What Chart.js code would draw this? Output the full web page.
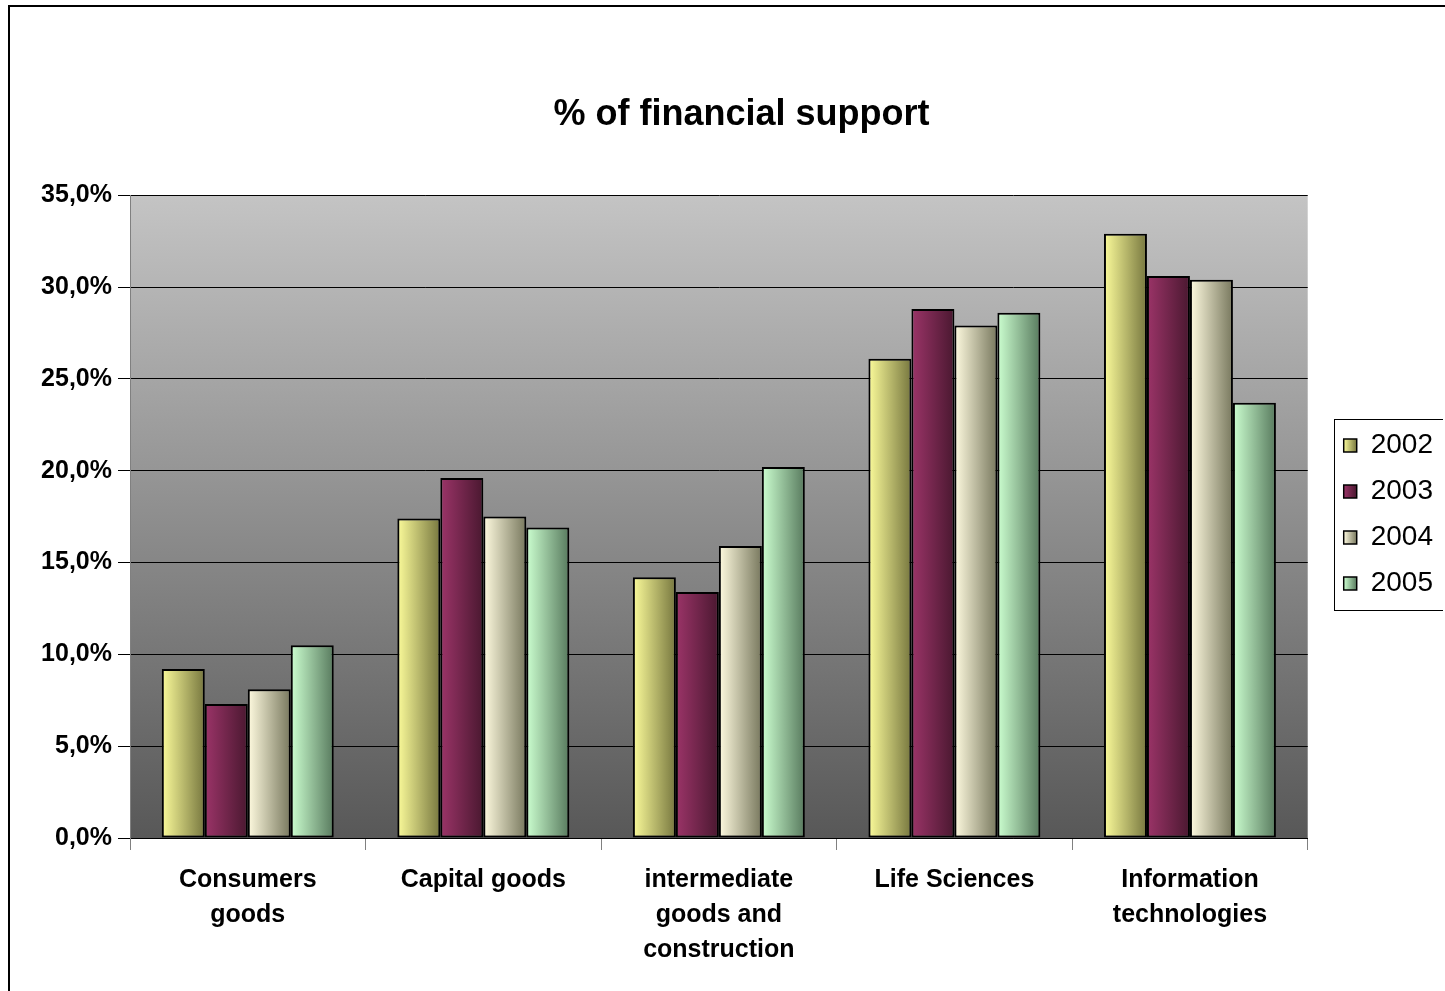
<!DOCTYPE html>
<html>
<head>
<meta charset="utf-8">
<title>% of financial support</title>
<script src="https://cdn.jsdelivr.net/npm/chart.js@4/dist/chart.umd.min.js"></script>
<style>
  html, body { margin: 0; padding: 0; background: #fff; overflow: hidden; }
  .frame { position: absolute; left: 8px; top: 5px; width: 3000px; height: 3000px; border: 2px solid #000; }
  .wrap { position: absolute; left: 0; top: 0; width: 1443px; height: 991px; }
</style>
</head>
<body>
<div class="frame"></div>
<div class="wrap"><canvas id="chart"></canvas></div>
<script>
const categories = [
	['Consumers', 'goods'],
	'Capital goods',
	['intermediate', 'goods and', 'construction'],
	'Life Sciences',
	['Information', 'technologies'],
];
const years = ['2002', '2003', '2004', '2005'];
const values2002 = [9.2, 17.4, 14.2, 26.1, 32.9];
const values2003 = [7.3, 19.6, 13.4, 28.8, 30.6];
const values2004 = [8.1, 17.5, 15.9, 27.9, 30.4];
const values2005 = [10.5, 16.9, 20.2, 28.6, 23.7];
const yTicks = [0, 5, 10, 15, 20, 25, 30, 35];

// light (left) and dark (right) end of each bar's shading
const lightColors = ['#fbfb9a', '#9b3468', '#fffbe0', '#ccffd0'];
const darkColors = ['#77773f', '#4a1830', '#78785e', '#587a5e'];
const midColors = ['#c8c878', '#7a2850', '#d0d0b0', '#a0d0a8'];

const FONT = 'Arial, "Liberation Sans", sans-serif';
const CAT_PCT = 0.73;
const LEGEND_PAD = 18;
const LEGEND_BOX = 13;

function barFill(c) {
	const chart = c.chart;
	const x = chart.scales.x;
	if (!chart.chartArea || !x || c.type !== 'data') return midColors[c.datasetIndex];
	const cat = x.width / categories.length;
	const w = (cat * CAT_PCT) / years.length;
	const left = x.getPixelForValue(c.dataIndex) - (cat * CAT_PCT) / 2 + c.datasetIndex * w;
	const g = chart.ctx.createLinearGradient(left, 0, left + w, 0);
	g.addColorStop(0, lightColors[c.datasetIndex]);
	g.addColorStop(1, darkColors[c.datasetIndex]);
	return g;
}

const plotBackground = {
	id: 'plotBackground',
	beforeDraw(chart) {
		const { ctx, chartArea: a } = chart;
		const g = ctx.createLinearGradient(0, a.top, 0, a.bottom);
		g.addColorStop(0, '#c4c4c4');
		g.addColorStop(1, '#585858');
		ctx.save();
		ctx.fillStyle = g;
		ctx.fillRect(a.left, a.top, a.right - a.left, a.bottom - a.top);
		ctx.restore();
	},
};

const legendFrame = {
	id: 'legendFrame',
	afterDraw(chart) {
		const boxes = chart.legend && chart.legend.legendHitBoxes;
		if (!boxes || !boxes.length) return;
		const first = boxes[0];
		const last = boxes[boxes.length - 1];
		const ctx = chart.ctx;
		ctx.save();
		ctx.strokeStyle = '#000';
		ctx.lineWidth = 1;
		const top = Math.round(first.top + first.height / 2 - 27);
		const bottom = Math.round(last.top + last.height / 2 + 26);
		ctx.strokeRect(Math.round(first.left - 10) + 0.5, top + 0.5, 300, bottom - top);
		ctx.restore();
	},
};

const chart = new Chart(document.getElementById('chart'), {
	type: 'bar',
	data: {
		labels: categories,
		datasets: [values2002, values2003, values2004, values2005].map((vals, i) => ({
			label: years[i],
			data: vals,
			backgroundColor: barFill,
			borderColor: '#000',
			borderWidth: 2,
			borderSkipped: false,
			categoryPercentage: CAT_PCT,
			barPercentage: 1,
		})),
	},
	options: {
		responsive: true,
		maintainAspectRatio: false,
		animation: false,
		layout: { padding: { left: 40, top: 0, right: 0, bottom: 0 } },
		plugins: {
			title: {
				display: true,
				text: '% of financial support',
				color: '#000',
				font: { family: FONT, size: 36, weight: 'bold' },
				padding: { top: 93, bottom: 59 },
			},
			legend: {
				position: 'right',
				title: { display: true, text: ' ', color: '#000', font: { size: 1 }, padding: { top: 37, bottom: 0 } },
				labels: {
					color: '#000',
					font: { family: FONT, size: 28 },
					boxWidth: LEGEND_BOX,
					boxHeight: LEGEND_BOX,
					padding: LEGEND_PAD,
					generateLabels(c) {
						const lg = c.legend;
						return years.map((y, i) => {
							let fill = midColors[i];
							if (lg && lg.left !== undefined) {
								const bx = lg.left + LEGEND_PAD;
								fill = c.ctx.createLinearGradient(bx, 0, bx + LEGEND_BOX, 0);
								fill.addColorStop(0, lightColors[i]);
								fill.addColorStop(1, darkColors[i]);
							}
							return {
								text: y,
								fillStyle: fill,
								strokeStyle: '#000',
								fontColor: '#000',
								lineWidth: 1.5,
								datasetIndex: i,
								hidden: false,
							};
						});
					},
				},
			},
			tooltip: { enabled: false },
		},
		scales: {
			x: {
				grid: { offset: true, drawOnChartArea: false, tickLength: 12, color: '#808080' },
				border: { display: true, color: '#000' },
				ticks: {
					color: '#000',
					font: { family: FONT, size: 25, weight: 'bold', lineHeight: 1.4 },
					padding: 13,
					maxRotation: 0,
					autoSkip: false,
				},
				afterFit(s) { s.height = 153; },
			},
			y: {
				min: 0,
				max: 35,
				afterBuildTicks(s) { s.ticks = yTicks.map(v => ({ value: v })); },
				grid: { color: '#000', lineWidth: 1, tickLength: 12 },
				border: { display: true, color: '#808080' },
				ticks: {
					color: '#000',
					font: { family: FONT, size: 25, weight: 'bold' },
					padding: 6,
					callback: v => `${v.toFixed(1).replace('.', ',')}%`,
				},
				afterFit(s) { s.width = 90; },
			},
			gap: {
				type: 'linear',
				position: 'right',
				display: true,
				grid: { display: false, drawTicks: false },
				border: { display: false },
				ticks: { display: false },
				afterFit(s) { s.width = 18; },
			},
		},
	},
	plugins: [plotBackground, legendFrame],
});
chart.update();
</script>
</body>
</html>
